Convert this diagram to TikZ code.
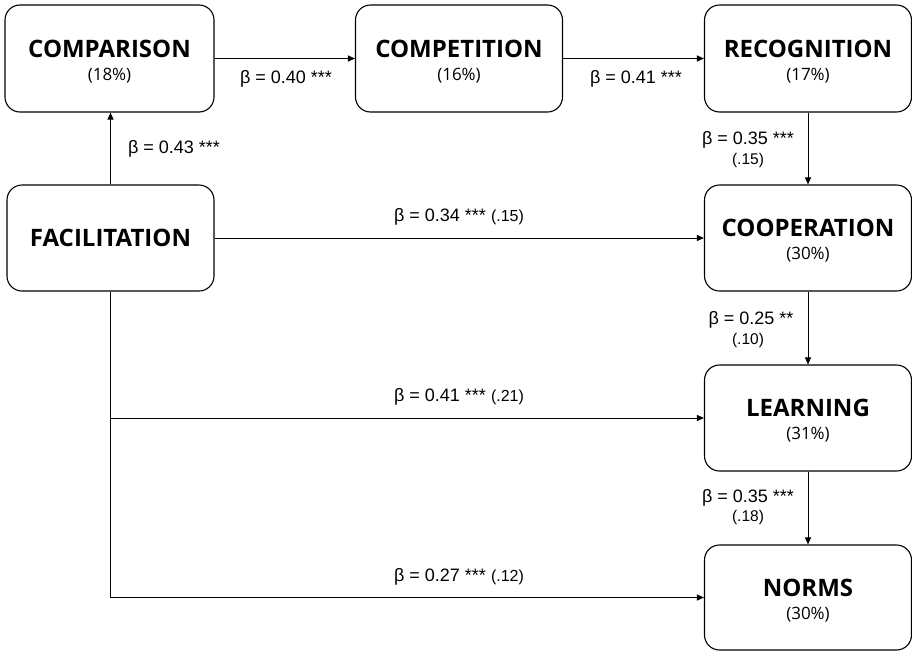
\documentclass[tikz,border=0pt]{standalone}
\usepackage{fontspec}
\setmainfont{Liberation Sans}
\newfontfamily\titlefont{Open Sans}
\usetikzlibrary{arrows.meta}
\newcommand{\stars}[1]{#1}
\newcommand{\smallse}[1]{{\fontsize{16}{16}\selectfont #1}}
\begin{document}
\begin{tikzpicture}[x=1pt,y=-1pt,
  box/.style={draw, rounded corners=15pt, line width=1.1pt, minimum width=207pt, minimum height=106pt, inner sep=0pt},
  title/.style={font=\titlefont\bfseries\fontsize{24}{26}\selectfont, inner sep=0pt},
  pct/.style={font=\titlefont\fontsize{17}{19}\selectfont, inner sep=0pt},
  conn/.style={line width=1pt, -{Triangle[length=7pt,width=6pt]}},
  lbl/.style={font=\fontsize{18}{20}\selectfont, inner sep=0pt},
  se/.style={font=\fontsize{15.5}{17}\selectfont, inner sep=0pt},
]
\useasboundingbox (0,0) rectangle (912,651);
% boxes
\node[box, minimum width=209pt, minimum height=107pt] (comp) at (109.5,58.5) {};
\node[box, minimum height=107pt] (compet) at (459,58.5) {};
\node[box, minimum height=107pt] (recog) at (808,58.5) {};
\node[box] (facil) at (110.5,238) {};
\node[box] (coop) at (808,238) {};
\node[box] (learn) at (808,418) {};
\node[box, minimum height=105pt] (norms) at (808,597.5) {};
% texts
\node[title] (compT) at ([yshift=10pt]comp.center) {COMPARISON};
\node[pct] (compP) at ([yshift=-17pt]comp.center) {(18\%)};
\node[title] (competT) at ([yshift=10pt]compet.center) {COMPETITION};
\node[pct] (competP) at ([yshift=-17pt]compet.center) {(16\%)};
\node[title] (recogT) at ([yshift=10pt]recog.center) {RECOGNITION};
\node[pct] (recogP) at ([yshift=-17pt]recog.center) {(17\%)};
\node[title] (facilT) at (facil.center) {FACILITATION};
\node[title] (coopT) at ([yshift=10pt]coop.center) {COOPERATION};
\node[pct] (coopP) at ([yshift=-17pt]coop.center) {(30\%)};
\node[title] (learnT) at ([yshift=10pt]learn.center) {LEARNING};
\node[pct] (learnP) at ([yshift=-17pt]learn.center) {(31\%)};
\node[title] (normsT) at ([yshift=10pt]norms.center) {NORMS};
\node[pct] (normsP) at ([yshift=-17pt]norms.center) {(30\%)};
% connectors
\draw[conn] (facil.north) -- (facil.north |- comp.south);
\draw[conn] (comp.east) -- (compet.west);
\draw[conn] (compet.east) -- (recog.west);
\draw[conn] (recog.south) -- (coop.north);
\draw[conn] (facil.east) -- (coop.west);
\draw[conn] (coop.south) -- (learn.north);
\draw[conn] (learn.south) -- (norms.north);
\draw[conn] (facil.south) |- (norms.west);
\coordinate (branch) at (facil.south |- learn.west);
\draw[conn] (branch) -- (learn.west);
% labels
\node[lbl] (l1) at (174,149) {β = 0.43 \stars{***}};
\node[lbl] (l2) at (286,79) {β = 0.40 \stars{***}};
\node[lbl] (l3) at (636,79) {β = 0.41 \stars{***}};
\node[lbl] (l4) at (748,140) {β = 0.35 \stars{***}};
\node[se] (l4b) at (748,160) {(.15)};
\node[lbl] (l5) at (459,217) {β = 0.34 \stars{***} \smallse{(.15)}};
\node[lbl] (l6) at (751,320) {β = 0.25 \stars{**}};
\node[se] (l6b) at (748,340) {(.10)};
\node[lbl] (l7) at (459,397) {β = 0.41 \stars{***} \smallse{(.21)}};
\node[lbl] (l8) at (748,498) {β = 0.35 \stars{***}};
\node[se] (l8b) at (748,517) {(.18)};
\node[lbl] (l9) at (459,577) {β = 0.27 \stars{***} \smallse{(.12)}};
\end{tikzpicture}
\end{document}
